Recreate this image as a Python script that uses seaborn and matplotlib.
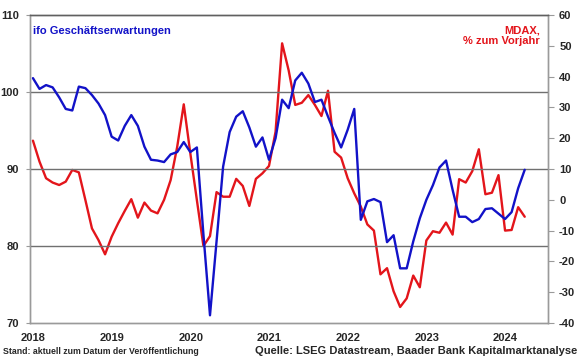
import numpy as np
import pandas as pd
import matplotlib
matplotlib.use('Agg')
import matplotlib.pyplot as plt
import seaborn as sns

# ifo Geschäftserwartungen (linke Achse), monatlich ab Jan 2018
ifo = [101.8, 100.4, 100.9, 100.6, 99.3, 97.8, 97.6, 100.7, 100.5, 99.6, 98.5, 97.0,
       94.2, 93.7, 95.6, 97.0, 95.6, 92.9, 91.2, 91.1, 90.9, 91.9, 92.2, 93.5,
       92.2, 92.8, 81.5, 71.0, 80.6, 90.3, 94.8, 96.8, 97.5, 95.4, 92.9, 94.1,
       91.2, 94.0, 99.0, 97.9, 101.5, 102.5, 101.1, 98.7, 99.0, 96.8, 94.7, 92.8,
       95.1, 97.8, 83.4, 85.8, 86.1, 85.7, 80.5, 81.4, 77.1, 77.1, 80.6, 83.6,
       86.0, 87.9, 90.2, 91.1, 87.3, 83.8, 83.8, 83.1, 83.5, 84.8, 84.9, 84.2,
       83.5, 84.4, 87.5, 89.9]

# MDAX, % zum Vorjahr (rechte Achse)
mdax = [19.2, 12.4, 7.0, 5.6, 4.8, 5.9, 9.7, 8.9, -0.1, -9.3, -13.1, -17.7,
        -12.0, -7.6, -3.6, 0.2, -5.8, -0.9, -3.5, -4.4, 0.0, 6.4, 17.2, 31.0,
        15.1, -0.1, -15.0, -11.8, 2.5, 1.0, 1.0, 6.8, 4.5, -2.0, 6.8, 8.6,
        11.0, 22.1, 50.8, 42.0, 30.8, 31.5, 34.0, 30.8, 27.2, 35.4, 15.6, 13.7,
        7.0, 2.1, -2.2, -8.0, -10.0, -24.2, -22.2, -29.7, -34.8, -32.0, -24.6, -28.4,
        -13.2, -10.2, -10.7, -7.4, -11.3, 6.7, 5.6, 9.3, 16.4, 1.8, 2.3, 8.0,
        -10.0, -9.8, -2.4, -5.5]

jahre = ['2018', '2019', '2020', '2021', '2022', '2023', '2024']

df = pd.DataFrame({'monat': np.arange(len(ifo)) + 0.45, 'ifo': ifo, 'mdax': mdax})

sns.set_style('white')
plt.rcParams['font.family'] = ['Liberation Sans', 'DejaVu Sans']
plt.rcParams['font.weight'] = 'bold'
plt.rcParams['axes.unicode_minus'] = False

blau = '#1212c8'
rot = '#e3151b'
grau = '#9a9a9a'

fig = plt.figure(figsize=(5.8, 3.59), dpi=100)
ax = fig.add_axes([30 / 580, 1 - 323 / 359, 518 / 580, 308 / 359])
ax2 = ax.twinx()

sns.lineplot(data=df, x='monat', y='mdax', ax=ax2, color=rot, linewidth=1.7)
sns.lineplot(data=df, x='monat', y='ifo', ax=ax, color=blau, linewidth=1.7)

# blau über rot
ax.set_zorder(ax2.get_zorder() + 1)
ax.patch.set_visible(False)

ax.set_xlim(0, 79)
ax.set_ylim(70, 110)
ax2.set_ylim(-40, 60)

for y in [80, 90, 100]:
    ax.axhline(y, color='#707070', linewidth=1, zorder=0)

ax.set_yticks([70, 80, 90, 100, 110])
ax2.set_yticks(np.arange(-40, 61, 10))
ax.set_xticks(np.arange(0, 73, 12))
ax.set_xticklabels([])
ax.set_xticks(np.arange(0, 73, 12) + 0.5, minor=True)
ax.set_xticklabels(jahre, minor=True)

ax.tick_params(axis='y', direction='out', length=3, color=grau, labelsize=8, pad=5)
ax.tick_params(axis='x', which='major', direction='out', length=3, color=grau)
ax.tick_params(axis='x', which='minor', length=0, labelsize=8, pad=7)
ax2.tick_params(axis='y', direction='out', length=4, color=grau, labelsize=8, pad=4)

for a in (ax, ax2):
    a.set_xlabel('')
    a.set_ylabel('')
    for s in ['left', 'right', 'bottom']:
        a.spines[s].set_color(grau)
        a.spines[s].set_linewidth(1)
    a.spines['top'].set_color('#606060')
    a.spines['top'].set_linewidth(1)

ax.text(0.006, 0.965, 'ifo Geschäftserwartungen', transform=ax.transAxes,
        color=blau, fontsize=8, fontweight='bold', ha='left', va='top')
ax.text(0.985, 0.965, 'MDAX,\n% zum Vorjahr', transform=ax.transAxes,
        color=rot, fontsize=8, fontweight='bold', ha='right', va='top', linespacing=1.0)

fig.text(3 / 580, 1 - 352 / 359, 'Stand: aktuell zum Datum der Veröffentlichung',
         fontsize=6.3, fontweight='bold', ha='left', va='center')
fig.text(577 / 580, 1 - 351 / 359, 'Quelle: LSEG Datastream, Baader Bank Kapitalmarktanalyse',
         fontsize=8, fontweight='bold', ha='right', va='center')

fig.savefig('out.png', dpi=100)
